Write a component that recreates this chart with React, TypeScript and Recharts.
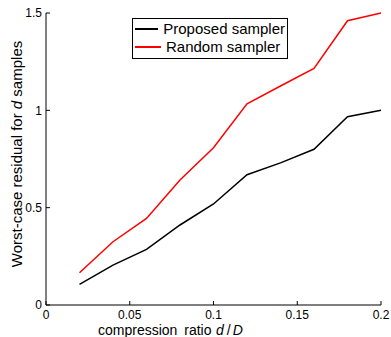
import React from 'react';
import { LineChart, Line, XAxis, YAxis, Legend } from 'recharts';

const ratios = [0.02, 0.04, 0.06, 0.08, 0.1, 0.12, 0.14, 0.16, 0.18, 0.2];
const proposed = [0.106, 0.205, 0.286, 0.411, 0.519, 0.669, 0.73, 0.8, 0.967, 1.0];
const random = [0.166, 0.325, 0.445, 0.642, 0.808, 1.034, 1.125, 1.215, 1.46, 1.5];
const xTicks = [0, 0.05, 0.1, 0.15, 0.2];
const yTicks = [0, 0.5, 1, 1.5];
const seriesNames = ['Proposed sampler', 'Random sampler'];

const data = ratios.map((r, i) => ({ r, proposed: proposed[i], random: random[i] }));

const FONT = '"Liberation Sans", Arial, Helvetica, sans-serif';
const fmt = (v: number) => String(v);

const LegendBox = (props: any) => {
  const items = props.payload || [];
  return (
    <div
      style={{
        border: '1px solid #000',
        background: '#fff',
        padding: '1px 2px 2px 2px',
        fontFamily: FONT,
        fontSize: 15,
        lineHeight: '18px',
        width: 150,
      }}
    >
      {items.map((it: any) => (
        <div key={it.value} style={{ display: 'flex', alignItems: 'center', whiteSpace: 'nowrap' }}>
          <span style={{ display: 'inline-block', width: 26, height: 0, borderTop: `2px solid ${it.color}`, marginRight: 5 }} />
          <span style={{ color: '#000' }}>{it.value}</span>
        </div>
      ))}
    </div>
  );
};

const XLabel = (props: any) => {
  const vb = props.viewBox;
  return (
    <text x={vb.x + 52} y={vb.y + 29.5} textAnchor="start" fontFamily={FONT} fontSize={14} fill="#000">
      compression<tspan dx={3}> ratio</tspan>
      <tspan dx={4.5} fontStyle="italic">d</tspan>
      <tspan dx={3}>/</tspan>
      <tspan dx={2} fontStyle="italic">D</tspan>
    </text>
  );
};

const YLabel = (props: any) => {
  const vb = props.viewBox;
  const cx = vb.x + 22;
  const cy = vb.y + vb.height / 2 - 5;
  return (
    <text x={cx} y={cy} transform={`rotate(-90 ${cx} ${cy})`} textAnchor="middle" fontFamily={FONT} fontSize={15} fill="#000">
      Worst-case residual for <tspan fontStyle="italic">d</tspan> samples
    </text>
  );
};

export default function App() {
  return (
    <div style={{ position: 'absolute', left: 0, top: 0, width: 391, height: 337, background: '#fff' }}>
      <LineChart width={391} height={337} data={data} margin={{ top: 13, right: 10, bottom: 0, left: 0 }}>
        <XAxis
          dataKey="r"
          type="number"
          domain={[0, 0.2]}
          ticks={xTicks}
          tickFormatter={fmt}
          height={32}
          stroke="#000"
          tickSize={-4}
          tickMargin={9}
          tick={{ fill: '#000', fontSize: 12, fontFamily: FONT }}
          label={<XLabel />}
          interval={0}
        />
        <XAxis
          xAxisId="top"
          dataKey="r"
          type="number"
          orientation="top"
          domain={[0, 0.2]}
          ticks={xTicks}
          height={0}
          stroke="#000"
          tickSize={-4}
          tick={false}
        />
        <YAxis
          type="number"
          domain={[0, 1.5]}
          ticks={yTicks}
          tickFormatter={fmt}
          width={46}
          stroke="#000"
          tickSize={-4}
          tickMargin={8}
          tick={{ fill: '#000', fontSize: 12, fontFamily: FONT }}
          label={<YLabel />}
          interval={0}
        />
        <YAxis
          yAxisId="right"
          type="number"
          orientation="right"
          domain={[0, 1.5]}
          ticks={yTicks}
          width={0}
          stroke="#000"
          tickSize={-4}
          tick={false}
        />
        <Legend
          content={<LegendBox />}
          layout="vertical"
          align="center"
          verticalAlign="middle"
          wrapperStyle={{ position: 'absolute', left: 132, top: 18, width: 'auto', height: 'auto' }}
        />
        <Line name={seriesNames[0]} dataKey="proposed" stroke="#000" strokeWidth={1.5} dot={false} isAnimationActive={false} />
        <Line name={seriesNames[1]} dataKey="random" stroke="#ff0000" strokeWidth={1.5} dot={false} isAnimationActive={false} />
      </LineChart>
    </div>
  );
}
